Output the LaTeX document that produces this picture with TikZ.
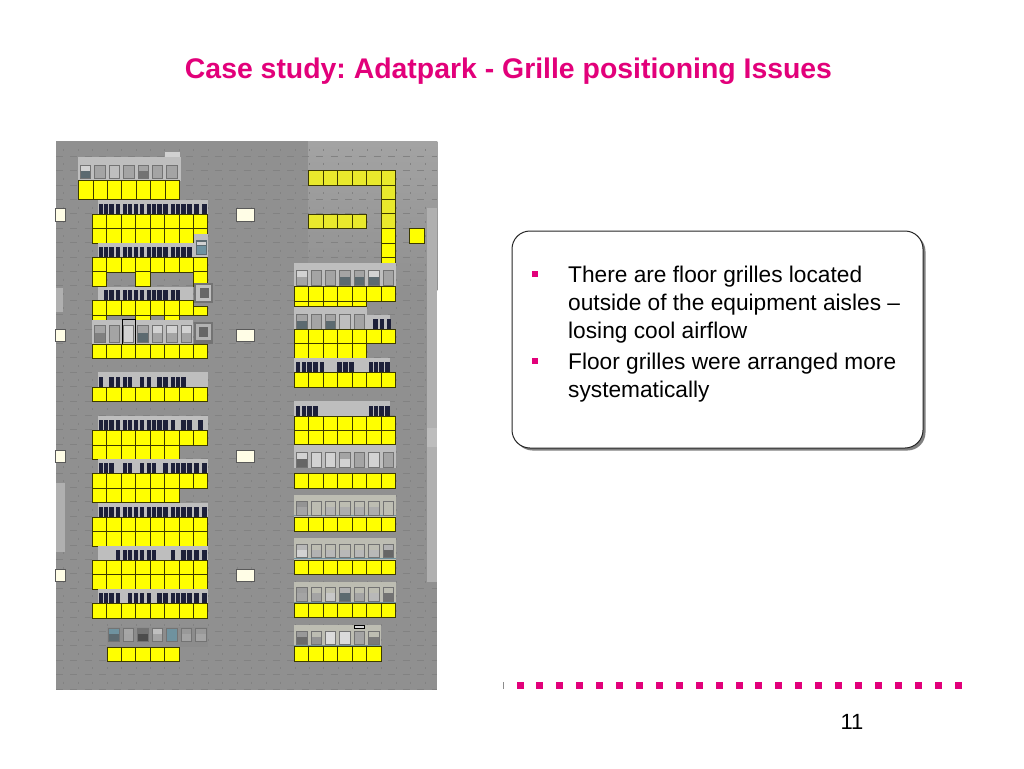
\documentclass[tikz,border=0pt]{standalone}
\usepackage{fontspec}
\setmainfont{Liberation Sans}
\usetikzlibrary{positioning}

\definecolor{pinkish}{HTML}{E2007A}
\definecolor{floorgray}{HTML}{909090}
\definecolor{tilegray}{HTML}{828282}
\definecolor{palegray}{HTML}{B0B0B0}
\definecolor{bandgray}{HTML}{BEBEBE}
\definecolor{bargray}{HTML}{1D2039}
\definecolor{brightcell}{HTML}{FFFF00}
\definecolor{dullcell}{HTML}{E9E92C}
\definecolor{cellline}{HTML}{3C3A00}
\definecolor{creamy}{HTML}{FFFDE6}
\definecolor{beigeband}{HTML}{BDBDB2}
\definecolor{cabslate}{HTML}{5C6A70}
\definecolor{cablight}{HTML}{D2D2D2}
\definecolor{cabmid}{HTML}{A4A4A4}
\definecolor{cabblue}{HTML}{6F929F}

\tikzset{
  cell/.style={draw=cellline,line width=.9pt},
  vent/.style={rectangle,draw=black!65,line width=.8pt,fill=creamy,inner sep=0pt},
  pinkdot/.style={rectangle,fill=pinkish,inner sep=0pt,minimum size=7pt},
  listdot/.style={rectangle,fill=pinkish,inner sep=0pt,minimum size=6pt},
  listtext/.style={anchor=north west,align=left,inner sep=0pt,font=\fontsize{22.7}{28}\selectfont},
}

% yellow floor cells: x, y, columns, rows, colour
\newcommand{\cellblock}[5]{
  \foreach \c in {1,...,#3}
    \foreach \r in {1,...,#4}
      \filldraw[cell,fill=#5] ({#1+(\c-1)*14.45},{#2+(\r-1)*14.4}) rectangle +(14.45,14.4);
}
% dark racks: origin, top, height, positions
\newcommand{\barset}[4]{
  \foreach \v in {#4}
    \fill[bargray] ({#1+\v/3},#2) rectangle +(4.3,#3);
}
% cabinets: x, top, height, pitch, list of body/lower colour
\newcommand{\cabset}[5]{
  \foreach \i/\a/\b in {#5} {
    \fill[\a] ({#1+\i*#4+2},#2) rectangle +({#4-4},#3);
    \fill[\b] ({#1+\i*#4+2},{#2+#3*.45}) rectangle +({#4-4},{#3*.55});
    \draw[black!55,line width=.5pt] ({#1+\i*#4+2},#2) rectangle +({#4-4},#3);
  }
}

\begin{document}
\begin{tikzpicture}[x=1pt,y=-1pt]
  \useasboundingbox (0,0) rectangle (1024,768);
  \fill[white] (0,0) rectangle (1024,768);

  % floor
  \fill[floorgray] (55.5,141) rectangle (437.3,690);
  \fill[top color=black!36,bottom color=floorgray] (308,141) rectangle (437.3,290);
  \foreach \r in {0,...,37}
    \draw[tilegray,line width=.6pt,dash pattern=on 7pt off 7.45pt] (56,{156+\r*14.4}) -- (437,{156+\r*14.4});
  \foreach \c in {0,...,25}
    \draw[tilegray,line width=.6pt,dash pattern=on 2pt off 12.4pt] ({63.6+\c*14.45},149) -- ({63.6+\c*14.45},689);
  \fill[palegray] (426.7,208) rectangle (437.3,581.7);
  \fill[black!26] (426.7,428) rectangle (437.3,447);
  \fill[palegray] (55.5,288) rectangle (63,312);
  \fill[palegray] (55.5,482.7) rectangle (65,551.7);

  % vents
  \foreach \y/\n in {208.3/a,329/b,450/c,569/d} {
    \node[vent,minimum width=10pt,minimum height=12.7pt] (ventl\n) at (60.7,\y+6.3) {};
    \node[vent,minimum width=17.6pt,minimum height=12.7pt] (ventm\n) at (245.5,\y+6.3) {};
  }

  % left block
  \fill[bandgray] (78,157) rectangle (181,181);
  \fill[black!18] (165,152) rectangle (180,157);
  \cabset{78}{165}{13}{14.45}{0/cablight/cabslate,1/cabmid/cabmid,2/bandgray/bandgray,3/cabmid/cabmid,4/cabmid/black!55,5/cabmid/cabmid,6/cabmid/cabmid}
  \filldraw[cell,fill=brightcell] (78.5,180.7) rectangle (179.6,199.3);
  \foreach \c in {1,...,6}
    \draw[cell] ({78.5+\c*14.45},180.7) -- ({78.5+\c*14.45},199.3);

  \fill[bandgray] (97.7,200) rectangle (208,214.3);
  \barset{50}{204}{9.7}{146,162,178,197,218,234,251,270,290,306,322,340,362,378,394,412,433,457}
  \cellblock{92.3}{214.3}{8}{2}{brightcell}

  \fill[bandgray] (97.7,243.3) rectangle (208,257.7);
  \barset{50}{246.7}{10}{146,162,178,197,218,234,251,270,290,306,322,340,362,378,394,412}
  \fill[bandgray] (194,234) rectangle (208,257.7);
  \fill[cabslate] (195.5,240) rectangle (207,255);
  \fill[cabblue] (197,246) rectangle (205.5,254);
  \fill[cablight] (197,242) rectangle (205.5,245);
  \cellblock{92.3}{257.7}{8}{1}{brightcell}
  \cellblock{92.3}{271.9}{1}{1}{brightcell}
  \cellblock{135.6}{271.9}{1}{1}{brightcell}
  \cellblock{193.4}{271.9}{1}{1}{brightcell}

  \fill[bandgray] (97.7,286.7) rectangle (193,300.7);
  \barset{50}{290}{10.7}{162,178,197,218,234,251,270,290,306,322,340,362,378}
  \fill[black!55] (194,283) rectangle (213,303);
  \fill[black!25] (196,285) rectangle (211,301);
  \fill[black!60] (200,288) rectangle (209,298);
  \cellblock{92.3}{300.7}{7}{1}{brightcell}
  \filldraw[cell,fill=brightcell] (193.4,306) rectangle (207.9,315);
  \cellblock{92.3}{315}{1}{1}{brightcell}
  \cellblock{135.6}{315}{1}{1}{brightcell}
  \cellblock{164.6}{315}{1}{1}{brightcell}

  \fill[bandgray] (92.3,320) rectangle (193,344);
  \cabset{92.3}{325}{17}{14.45}{0/cabmid/black!50,1/cabmid/cabmid,2/cablight/cablight,3/cabmid/cabslate,4/cablight/cabmid,5/cablight/cabmid,6/cablight/cabmid}
  \draw[black,line width=1pt] (122,319) rectangle (135,344);
  \fill[black!55] (194,322) rectangle (213,344);
  \fill[black!30] (196,324) rectangle (211,340);
  \fill[black!60] (199,327) rectangle (208,337);
  \cellblock{92.3}{344}{8}{1}{brightcell}

  \fill[bandgray] (97.7,372.3) rectangle (208,387.3);
  \barset{50}{376.7}{10.6}{146,178,197,218,234,270,290,322,340,362,378,394}
  \cellblock{92.3}{387.3}{8}{1}{brightcell}

  \fill[bandgray] (97.7,416) rectangle (208,430.7);
  \barset{50}{420}{10.7}{146,162,178,197,218,234,251,270,290,306,322,340,362,394,412,445}
  \cellblock{92.3}{430.7}{8}{1}{brightcell}
  \cellblock{92.3}{445.1}{6}{1}{brightcell}

  \fill[bandgray] (97.7,459.3) rectangle (208,473.7);
  \barset{50}{463.3}{10.4}{146,162,178,218,234,270,290,306,340,362,378,394,412,433,457}
  \cellblock{92.3}{473.7}{8}{1}{brightcell}
  \cellblock{92.3}{488.1}{6}{1}{brightcell}

  \fill[bandgray] (97.7,502.7) rectangle (208,517.3);
  \barset{50}{506.7}{10.6}{146,162,178,197,218,234,251,270,290,306,322,340,362,378,394,412,433,457}
  \cellblock{92.3}{517.3}{8}{2}{brightcell}

  \fill[bandgray] (97.7,546) rectangle (208,560.3);
  \barset{50}{550}{10.3}{197,218,234,251,270,290,306,362,394,412,433,457}
  \cellblock{92.3}{560.3}{8}{2}{brightcell}

  \fill[bandgray] (97.7,589) rectangle (208,603.7);
  \barset{50}{593.3}{10.4}{146,162,178,197,234,251,270,290,322,340,362,378,394,412,433,457}
  \cellblock{92.3}{603.7}{8}{1}{brightcell}

  \fill[black!45] (106.7,627.3) rectangle (208,646.7);
  \cabset{106.7}{628}{13}{14.45}{0/cabblue/cabslate,1/black!35/cabmid,2/black!55/black!70,3/black!25/cabmid,4/cabblue/cabblue,5/black!40/cabmid,6/black!40/cabmid}
  \cellblock{107}{647}{5}{1}{brightcell}

  % right block
  \cellblock{308.7}{170.7}{6}{1}{dullcell}
  \cellblock{381.1}{185.1}{1}{3}{dullcell}
  \cellblock{308.7}{214.3}{4}{1}{dullcell}
  \cellblock{381.1}{228.7}{1}{2}{brightcell}
  \filldraw[cell,fill=brightcell] (381.1,257.7) rectangle +(14.45,6);
  \cellblock{409.7}{228.7}{1}{1}{brightcell}

  \fill[bandgray] (294.3,263.3) rectangle (395.7,286.7);
  \cabset{294.3}{270}{15}{14.45}{0/cablight/cabmid,1/cabmid/cabmid,2/cabmid/cabmid,3/cabmid/cabslate,4/cabmid/cabslate,5/cablight/cabslate,6/cabmid/cabmid}
  \cellblock{294.3}{286.7}{7}{1}{brightcell}
  \filldraw[cell,fill=brightcell] (294.3,301.1) rectangle (366.6,306.7);
  \foreach \c in {1,...,4}
    \draw[cell] ({294.3+\c*14.45},301.1) -- ({294.3+\c*14.45},306.7);

  \fill[bandgray] (294.3,306.7) rectangle (366.7,330);
  \fill[bandgray] (366.7,315) rectangle (390,330);
  \cabset{294.3}{314}{15}{14.45}{0/cabmid/cabslate,1/cabmid/cabmid,2/cabmid/cabslate,3/bandgray/bandgray,4/cabmid/cabmid}
  \barset{240}{319}{10.3}{400,420,440}
  \cellblock{294.3}{329.5}{7}{1}{brightcell}
  \cellblock{294.3}{343.9}{5}{1}{brightcell}

  \fill[bandgray] (294.3,358.3) rectangle (390,372.7);
  \barset{240}{362.3}{10.4}{168,185,202,220,240,292,310,328,386,402,418,436}
  \cellblock{294.3}{372.7}{7}{1}{brightcell}

  \fill[bandgray] (294.3,401) rectangle (390,416);
  \barset{240}{406}{10}{168,185,202,220,386,402,418,436}
  \cellblock{294.3}{416}{7}{2}{brightcell}

  \fill[bandgray] (294.3,444.8) rectangle (395.7,468.3);
  \cabset{294.3}{452}{15}{14.45}{0/cablight/black!60,1/cablight/cablight,2/cablight/cablight,3/cabmid/cablight,4/cabmid/cabmid,5/cablight/cablight,6/cabmid/cabmid}
  \cellblock{294.3}{473.7}{7}{1}{brightcell}

  \foreach \y/\n in {495/517.3,538.3/560.3,581.7/603.3}
    \fill[beigeband] (294.3,\y) rectangle (395.7,\n);
  \fill[beigeband] (294.3,625) rectangle (381.3,646.7);
  \foreach \y/\x in {515.5/396,558.7/396,602/396,645/381.3}
    \draw[cabblue,line width=1pt] (294.3,\y) -- (\x,\y);
  \cabset{294.3}{501}{14}{14.45}{0/black!42/cabmid,1/beigeband/beigeband,2/beigeband/black!30,3/beigeband/black!32,4/beigeband/black!32,5/beigeband/black!32,6/beigeband/beigeband}
  \cabset{294.3}{544}{13}{14.45}{0/black!28/cablight,1/beigeband/black!30,2/beigeband/black!28,3/beigeband/black!28,4/beigeband/black!28,5/beigeband/black!28,6/black!30/black!60}
  \cabset{294.3}{587}{14}{14.45}{0/black!38/cabmid,1/beigeband/cabmid,2/beigeband/black!22,3/black!30/cabslate,4/beigeband/cabmid,5/beigeband/black!28,6/beigeband/black!55}
  \cabset{294.3}{631}{13}{14.45}{0/black!40/black!58,1/beigeband/black!42,2/black!14/black!14,3/black!14/black!14,4/cabmid/cabmid,5/beigeband/black!52}
  \draw[black,line width=1pt,fill=black!15] (354,625) rectangle (364.5,628);
  \cellblock{294.3}{517.3}{7}{1}{brightcell}
  \cellblock{294.3}{560.3}{7}{1}{brightcell}
  \cellblock{294.3}{603.4}{7}{1}{brightcell}
  \cellblock{294.3}{646.8}{6}{1}{brightcell}

  % callout
  \node[fill=black!50,rounded corners=18pt,minimum width=411pt,minimum height=217pt,inner sep=0pt] (calloutshadow) at (720,342) {};
  \node[draw=black!85,line width=1pt,fill=white,rounded corners=18pt,minimum width=411pt,minimum height=217pt,inner sep=0pt] (callout) at (717.5,339.5) {};
  \node[listdot] (dotA) at (535,274) {};
  \node[listtext] (pointA) at (568,266) {There are floor grilles located\\outside of the equipment aisles –\\losing cool airflow};
  \node[listdot] (dotB) at (535,361) {};
  \node[listtext] (pointB) at (568,353) {Floor grilles were arranged more\\systematically};

  % title and footer
  \node[text=pinkish,font=\fontsize{28.4}{32}\selectfont\bfseries\frenchspacing,inner sep=0pt] (title) at (508.5,71) {Case study: Adatpark - Grille positioning Issues};
  \foreach \n in {0,...,22}
    \node[pinkdot] (dash\n) at ({520+\n*19.91},685) {};
  \fill[black!45] (503,682) rectangle (503.8,689);
  \node[font=\fontsize{22}{26}\selectfont,inner sep=0pt] (pageno) at (852,722) {11};
\end{tikzpicture}
\end{document}
